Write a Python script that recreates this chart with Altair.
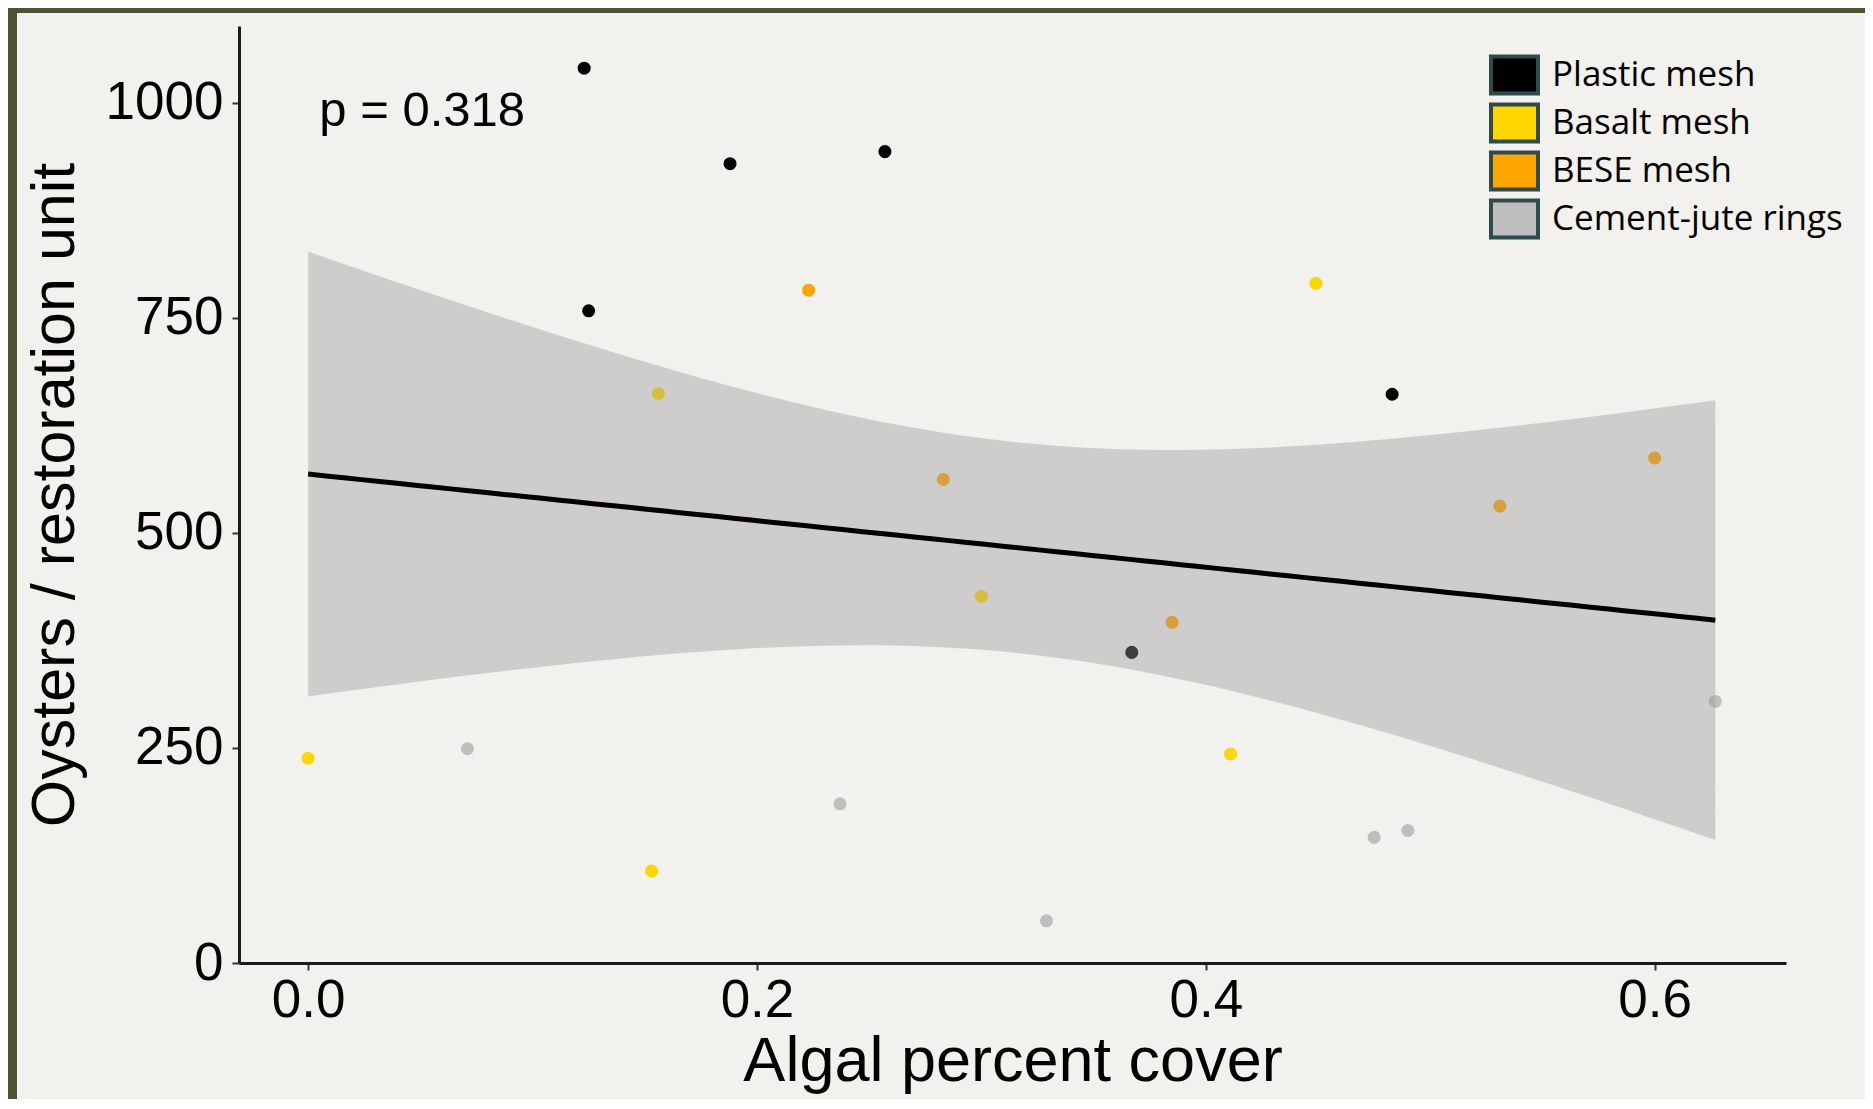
import altair as alt
import numpy as np
import pandas as pd

# ---- data ----
categories = ["Plastic mesh", "Basalt mesh", "BESE mesh", "Cement-jute rings"]
colors = ["#000000", "#FFD700", "#FFA500", "#BEBEBE"]

plastic_x = [0.123, 0.188, 0.257, 0.125, 0.483, 0.367]
plastic_y = [1040, 929, 943, 758, 661, 361]
basalt_x = [0.000, 0.156, 0.153, 0.300, 0.449, 0.411]
basalt_y = [238, 662, 107, 426, 790, 243]
bese_x = [0.223, 0.283, 0.385, 0.531, 0.600]
bese_y = [782, 562, 396, 531, 587]
cement_x = [0.071, 0.237, 0.329, 0.475, 0.490, 0.627]
cement_y = [249, 185, 49, 146, 154, 304]

x_ticks = [0.0, 0.2, 0.4, 0.6]
y_ticks = [0, 250, 500, 750, 1000]
p_label = "p = 0.318"
Z_CRIT = 1.96  # 95% normal quantile

groups = [(categories[0], plastic_x, plastic_y),
          (categories[1], basalt_x, basalt_y),
          (categories[2], bese_x, bese_y),
          (categories[3], cement_x, cement_y)]
rows = []
for name, xs, ys in groups:
    for a, b in zip(xs, ys):
        rows.append({"x": a, "y": b, "type": name})
df = pd.DataFrame(rows)

# linear fit with 95% confidence band
xv = df["x"].to_numpy(float)
yv = df["y"].to_numpy(float)
n = len(xv)
xm, ym = xv.mean(), yv.mean()
sxx = ((xv - xm) ** 2).sum()
slope = ((xv - xm) * (yv - ym)).sum() / sxx
icpt = ym - slope * xm
s = np.sqrt(((yv - (icpt + slope * xv)) ** 2).sum() / (n - 2))
grid = np.linspace(xv.min(), xv.max(), 80)
fit = icpt + slope * grid
se = s * np.sqrt(1.0 / n + (grid - xm) ** 2 / sxx)
fitdf = pd.DataFrame({"x": grid, "fit": fit,
                      "lo": fit - Z_CRIT * se, "hi": fit + Z_CRIT * se})

XS = alt.Scale(domain=[-0.0308, 0.6585], nice=False, zero=False)
YS = alt.Scale(domain=[0, 1089], nice=False, zero=False)
XT = "Algal percent cover"
YT = "Oysters / restoration unit"
xax = alt.Axis(values=x_ticks, format=".1f", title=XT, labelFlush=False)
yax = alt.Axis(values=y_ticks, format="d", title=YT)

points = alt.Chart(df).mark_circle(size=170, opacity=1).encode(
    x=alt.X("x:Q", scale=XS, axis=xax),
    y=alt.Y("y:Q", scale=YS, axis=yax),
    color=alt.Color(
        "type:N",
        scale=alt.Scale(domain=categories, range=colors),
        legend=alt.Legend(
            title=None, orient="none", legendX=1250, legendY=25,
            symbolType="M-1,-0.787H1V0.787H-1Z", symbolSize=2209,
            symbolStrokeColor="#2f4a4a", symbolStrokeWidth=4,
            symbolOpacity=1, labelFont="Open Sans", labelFontSize=35,
            labelColor="black", labelOffset=12, labelLimit=0,
            clipHeight=48, rowPadding=0, padding=0,
        ),
    ),
)

band = alt.Chart(fitdf).mark_area(color="#999999", opacity=0.4).encode(
    x=alt.X("x:Q", scale=XS, axis=xax),
    y=alt.Y("lo:Q", scale=YS, axis=yax),
    y2="hi:Q",
)

line = alt.Chart(fitdf).mark_line(color="black", strokeWidth=5).encode(
    x=alt.X("x:Q", scale=XS, axis=xax),
    y=alt.Y("fit:Q", scale=YS, axis=yax),
)

ptext = alt.Chart(pd.DataFrame({"x": [0.005], "y": [990], "t": [p_label]})).mark_text(
    align="left", baseline="middle", fontSize=49, font="Liberation Sans", color="black"
).encode(
    x=alt.X("x:Q", scale=XS, axis=xax),
    y=alt.Y("y:Q", scale=YS, axis=yax),
    text="t:N",
)

one = pd.DataFrame({"k": [0]})
frame_left = alt.Chart(one).mark_rule(color="#4b5533", strokeWidth=9).encode(
    x=alt.value(-226.5), y=alt.value(-18), y2=alt.value(1090)
)
frame_top = alt.Chart(one).mark_rule(color="#4b5533", strokeWidth=5).encode(
    x=alt.value(-231), x2=alt.value(1700), y=alt.value(-15.5)
)

chart = alt.layer(points, band, line, ptext, frame_left, frame_top).properties(
    width=1547, height=937, background="#f2f1ed",
    padding={"left": 231, "top": 18, "right": 79, "bottom": 136},
    autosize=alt.AutoSizeParams(type="none"),
).configure_axis(
    domainColor="#1a1a1a", domainWidth=3, tickColor="#333333", tickWidth=2,
    tickSize=7, labelFont="Liberation Sans", labelFontSize=53, labelColor="black",
    titleFont="Liberation Sans", titleColor="black",
    titleFontWeight="normal", grid=False,
).configure_axisY(
    titlePadding=19, titleFontSize=61, labelPadding=9
).configure_axisX(
    titlePadding=3, titleFontSize=63, labelPadding=4
).configure_view(stroke=None)

chart.save("out.html", embed_options={"renderer": "svg", "actions": False})
